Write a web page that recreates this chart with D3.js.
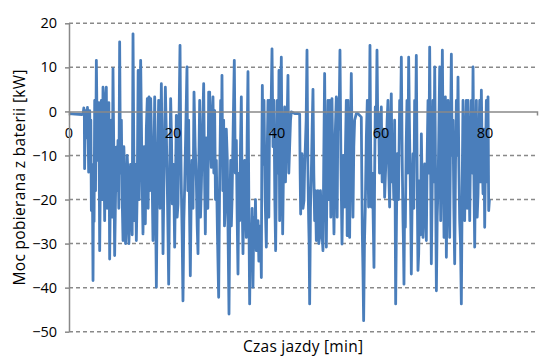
<!DOCTYPE html>
<html><head><meta charset="utf-8">
<script src="https://cdn.jsdelivr.net/npm/d3@7"></script>
<style>body{margin:0;background:#fff}svg{display:block}</style>
</head><body>
<svg id="c" width="546" height="363"></svg>
<script>
// Battery power [kW] vs driving time [min]: [time, power]
const part1 = [[0,-0.5],[1.2,-0.6],[2.5,-0.7],[2.7,-0.6],[2.85,0.8],[2.95,-0.5],[3.0,-13],[3.1,-4],[3.2,-1],[3.34,0.2],[3.45,-6],[3.55,0.9],[3.65,-2],[3.78,-13.8],[3.9,-3],[3.98,0.2],[4.1,-8],[4.2,-2],[4.3,-22.5],[4.42,-12],[4.52,-20],[4.62,-38.4],[4.72,-15],[4.82,-25],
[4.94,2.5],[5.1,-18],[5.26,11.6],[5.42,-5],[5.58,-11.1],[5.74,2],[5.9,-31.6],[6.06,-12],[6.22,2.5],[6.38,-20],[6.54,5.5],[6.7,-8],[6.86,-24.8],[7.02,3],[7.18,5.5],[7.34,-22],[7.5,-11.1],[7.66,2],[7.82,-33.5],[7.98,-15],[8.14,-2],[8.3,-24],[8.46,9.7],[8.62,-10],[8.78,-32.7],[8.94,-20],[9.1,-8.1],[9.26,-18],[9.42,-6.6],[9.58,-22],[9.74,15.8],[9.9,-14],[10.07,-2],[10.23,-20],[10.39,-29.3],[10.55,-8],[10.71,-15.7],[10.87,-30],[11.03,-25.5],[11.19,-10],[11.35,-14.2],[11.51,-30],[11.67,-24.8],[11.83,-12],[11.99,-13.8],[12.15,-28],[12.31,17.6],[12.47,-10],[12.63,-24.8],[12.79,-12],[12.95,-29.3],[13.12,-18],[13.3,9.3]];
const part2 = [[13.5,-20],[13.78,11.6],[14.0,-10],[14.23,-27.8],[14.45,-8],[14.68,-25.5],[14.87,-4],[15.06,2.9],[15.22,-22],[15.39,3.3],[15.55,-18],[15.71,2.9],[15.93,-10],[16.15,-29.3],[16.32,-14],[16.48,3.3],[16.64,-20],[16.8,-39.9],[17.02,-12],[17.24,2.5],[17.5,-22],[17.76,6.3],[17.92,-10],[18.08,-32.3],[18.3,-12],[18.53,5.5],[18.72,-5],[18.91,-17.2],[19.04,-28],[19.17,-39.2],[19.36,-15],[19.55,2.9],[19.71,-6],[19.87,-21],[20.1,-12],[20.32,-30.8],[20.48,-16],[20.64,-0.9],[20.8,-24],[20.96,-21],[21.15,-3],[21.35,15],[21.48,-6],[21.6,-17.2],[21.76,-28],[21.92,-43],[22.08,-25],[22.24,-17.2],[22.46,-4],[22.69,10.1],[22.85,-18],[23.01,-2],[23.17,-22],[23.33,-37.3],[23.49,-20],[23.65,-11.1],[23.85,-22],[24.04,4.4],[24.26,-8],[24.49,-15.7],[24.65,-26],[24.81,-32.3],[24.97,-12],[25.13,2.5],[25.29,-24],[25.45,-17.2],[25.68,-4],[25.9,6.3],[26.06,-14],[26.22,-27.8],[26.38,-6],[26.54,-15.7],[26.7,-22],[26.86,4.4]];
const part3 = [[27.05,4.4],[27.21,-8],[27.37,-12.7],[27.53,-2],[27.69,3.3],[27.85,-14],[28.01,0.2],[28.17,-20],[28.33,-11.1],[28.55,-28],[28.78,-42.2],[28.97,-16],[29.17,2.5],[29.3,-10],[29.42,8.2],[29.58,-18],[29.74,-2],[29.9,-26],[30.06,-21.7],[30.25,-4],[30.45,-11.1],[30.61,-30],[30.77,-46],[30.93,-22],[31.09,-11.1],[31.22,-26],[31.35,-20.2],[31.57,-4],[31.79,11.6],[31.98,-14],[32.18,-6.6],[32.34,-24],[32.5,-36.9],[32.66,-14],[32.82,-24.8],[32.98,-8],[33.14,3.3],[33.3,-20],[33.46,-32.3],[33.62,-18],[33.78,-11.1],[33.94,-22],[34.1,-28.6],[34.26,-6],[34.42,9],[34.58,-20],[34.74,-43.7],[34.9,-26],[35.06,-30.8],[35.22,-22],[35.38,-39.9],[35.54,-24],[35.7,-30.8],[35.86,-20],[36.02,-31.6],[36.18,-26],[36.35,-24.8],[36.51,-34],[36.67,-30.8],[36.83,-26],[36.99,-37.7],[37.08,-10],[37.18,5.9],[37.34,-12],[37.5,2.5],[37.72,-20],[37.95,-30.8],[38.11,-10],[38.27,2.5],[38.43,-24],[38.59,2.5],[38.8,-4],[39.04,14.2],[39.23,-8],[39.42,2.5],[39.58,-20],[39.74,-31.6],[39.9,-12],[40.06,2.5],[40.22,-14],[40.38,9.3]];
const part4 = [[40.51,-24.8],[40.67,-4],[40.83,12.3],[40.96,-10],[41.09,-27.8],[41.28,-10],[41.47,1],[41.63,-16],[41.79,-7.3],[41.95,-2],[42.11,8.2],[42.27,-14],[42.43,-8.1],[42.6,-2],[42.75,-0.1],[43.4,-0.5],[44.04,-0.5],[44.36,-0.6],[44.45,-14],[44.55,-23.3],[44.68,-12],[44.81,-9.6],[45.0,-22],[45.19,-20.2],[45.32,-12],[45.45,-8.1],[45.61,-2],[45.77,13.9],[45.93,-12],[46.09,-24.8],[46.18,-30],[46.28,-43.7],[46.44,-22],[46.6,-14.2],[46.76,-4],[46.92,5],[47.08,-14],[47.24,-24.8],[47.4,-18],[47.56,-29.3],[47.72,-22],[47.88,-18],[48.04,-30],[48.2,-28.6],[48.36,-18],[48.52,-23.3],[48.68,-28],[48.84,-31.6],[49.0,-10],[49.16,8.6],[49.32,-14],[49.49,-30.8],[49.65,-10],[49.81,2.5],[49.97,-20],[50.13,2.5],[50.35,-24],[50.57,2.9],[50.76,-14],[50.96,-27.8],[51.18,-6],[51.41,3.3],[51.57,-24],[51.73,2.9],[51.92,-4],[52.11,13.9],[52.3,-12],[52.5,-30.1],[52.75,-10],[53.01,-21.7],[53.17,-8],[53.33,2.5],[53.5,-28.2]];
const part5 = [[53.65,2.5],[53.81,-18],[53.97,-28.6],[54.13,-6],[54.29,8.6],[54.45,-10],[54.61,-24],[54.77,-8],[54.93,-2],[55.25,-0.5],[55.57,-0.5],[55.89,-0.9],[56.21,-1.3],[56.3,-14],[56.41,-27.8],[56.53,-36],[56.66,-47.5],[56.82,-30],[56.98,-21.7],[57.18,-6],[57.37,2.5],[57.5,-12],[57.62,-21.7],[57.75,-4],[57.88,15],[58.01,-8],[58.14,-21.7],[58.3,-14],[58.46,-21.7],[58.55,-28],[58.65,-35.4],[58.78,-14],[58.9,1],[59.06,-6],[59.23,13.9],[59.39,-4],[59.55,-0.5],[59.71,-14],[59.87,-11.1],[59.97,-4],[60.06,1],[60.22,-16],[60.38,-11.1],[60.54,-4],[60.7,-19.5],[60.86,-14],[61.02,-9.6],[61.18,-2],[61.34,2.5],[61.5,-14],[61.66,-21.7],[61.82,-6],[61.98,4],[62.14,-16],[62.3,-11.1],[62.46,-20],[62.62,-2],[62.72,-20],[62.82,-43.7],[62.98,-24],[63.14,-9.6],[63.36,-20],[63.59,2.5],[63.75,-4],[63.91,12.3],[64.07,-10],[64.23,-24.8],[64.32,-30],[64.42,-39.2],[64.55,-20],[64.68,-26.3],[64.84,-8],[65.0,2.5],[65.16,-14],[65.32,12.3],[65.48,-4],[65.64,-17.2],[65.74,-26],[65.83,-36.9],[65.99,-20],[66.15,-9.6],[66.31,-22],[66.47,2.5],[66.63,-8],[66.79,12.7],[66.95,-14],[67.11,-36.1]];
const part6 = [[67.25,-32.3],[67.35,-24],[67.44,-15.7],[67.6,-28],[67.76,-5.1],[67.92,-18],[68.08,-28.6],[68.24,-20],[68.4,-11.9],[68.56,-22],[68.72,-29.3],[68.88,-10],[69.04,2.5],[69.2,-14],[69.36,14.6],[69.52,-10],[69.68,-34.6],[69.84,-18],[70.0,2.5],[70.16,-16],[70.33,10.1],[70.49,-14],[70.65,-40.7],[70.81,-24],[70.97,-17.2],[71.13,-4],[71.29,10.1],[71.38,-8],[71.48,-24.8],[71.64,-6],[71.8,13.9],[71.96,-10],[72.12,-28.6],[72.25,-12],[72.38,3.3],[72.48,-14],[72.57,-33.1],[72.73,-16],[72.89,2.5],[73.05,-16],[73.21,-28.6],[73.37,-6],[73.53,13],[73.69,-10],[73.85,-2],[74.01,-22],[74.17,-34.6],[74.33,-12],[74.49,2.5],[74.65,-10],[74.81,7.8],[74.97,-12],[75.13,-24.8],[75.29,-30],[75.45,-43.7],[75.61,-18],[75.77,2.5],[75.93,-10],[76.09,-24.8],[76.25,-8],[76.41,2.5],[76.57,-22],[76.74,2.5],[76.9,-12],[77.06,-24.8],[77.22,-8],[77.38,2.5],[77.54,-14],[77.7,10.1],[77.86,-14],[78.02,-30.8],[78.18,-10],[78.34,2.5],[78.5,-24],[78.66,-18.7],[78.82,-6],[78.98,2.5],[79.14,-16],[79.3,4.8],[79.46,-10],[79.62,-18.7],[79.78,-4],[79.94,-26.3],[80.1,-10],[80.26,2.5],[80.42,-16],[80.58,3.3],[80.71,-22.5],[80.85,-20]];
const yTicks = [20,10,0,-10,-20,-30,-40,-50];
const xTicks = [0,20,40,60,80];
const xTitle = "Czas jazdy [min]";
const yTitle = "Moc pobierana z baterii [kW]";

const pts = [].concat(part1, part2, part3, part4, part5, part6);

const svg = d3.select("#c");
const x = d3.scaleLinear().domain([0,90]).range([69,537]);
const y = d3.scaleLinear().domain([-50,20]).range([331.7,23.3]);
const font = "'Open Sans', sans-serif";
const gray = "#898989";

// gridlines
svg.append("g").selectAll("line").data(yTicks.filter(d=>d!==0)).join("line")
  .attr("x1",x(0)).attr("x2",x(90)).attr("y1",d=>y(d)).attr("y2",d=>y(d))
  .attr("stroke",gray).attr("stroke-width",1.5).attr("stroke-dasharray","4,3");

// data line
svg.append("path").datum(pts)
  .attr("d", d3.line().x(d=>x(d[0])).y(d=>y(d[1])))
  .attr("fill","none").attr("stroke","#4a7ebb").attr("stroke-width",2.8).attr("stroke-linejoin","round");

// zero axis
const xAxis = d3.axisBottom(x).tickValues([]).tickSize(0).tickSizeOuter(4);
svg.append("g").attr("transform",`translate(0,${y(0)})`).call(xAxis)
  .call(g=>g.select(".domain").attr("stroke",gray).attr("stroke-width",1.5));
svg.append("g").selectAll("text").data(xTicks).join("text")
  .attr("x",d=>x(d)).attr("y",y(0)+27).attr("text-anchor","middle")
  .attr("font-family",font).attr("font-size",14.5).attr("fill","#000").text(d=>d);

// y axis
const yAxis = d3.axisLeft(y).tickValues(yTicks).tickSize(4).tickSizeOuter(0).tickPadding(8);
const ya = svg.append("g").attr("transform",`translate(${x(0)},0)`).call(yAxis);
ya.select(".domain").attr("stroke",gray).attr("stroke-width",1.5);
ya.selectAll(".tick line").attr("stroke",gray).attr("stroke-width",1.5);
ya.selectAll(".tick text").attr("font-family",font).attr("font-size",14.5).attr("fill","#000");

// titles
svg.append("text").attr("x",303).attr("y",352).attr("text-anchor","middle")
  .attr("font-family",font).attr("font-size",15.5).attr("fill","#000")
  .attr("textLength",120).attr("lengthAdjust","spacing").text(xTitle);
svg.append("text").attr("transform","translate(25,177.5) rotate(-90)").attr("text-anchor","middle")
  .attr("font-family",font).attr("font-size",15.5).attr("fill","#000")
  .attr("textLength",216).attr("lengthAdjust","spacing").text(yTitle);
</script></body></html>
